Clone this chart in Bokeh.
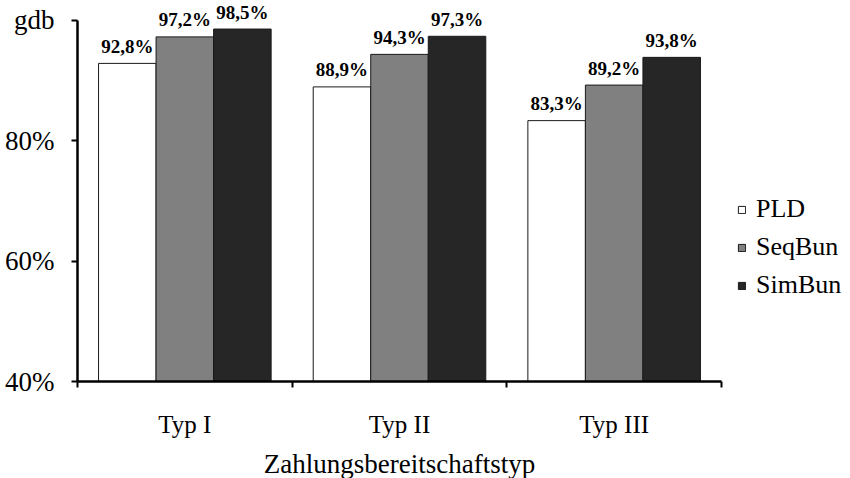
from bokeh.plotting import figure
from bokeh.models import Range1d, FixedTicker, Legend, LegendItem, ColumnDataSource
from bokeh.embed import file_html
from bokeh.resources import INLINE
from bokeh.core.properties import value

categories = ["Typ I", "Typ II", "Typ III"]
series = ["PLD", "SeqBun", "SimBun"]
pld = [92.8, 88.9, 83.3]
seqbun = [97.2, 94.3, 89.2]
simbun = [98.5, 97.3, 93.8]
y_ticks = [40, 60, 80, 100]
y_tick_labels = ["40%", "60%", "80%", "gdb"]
colors = ["#ffffff", "#808080", "#262626"]
x_title = "Zahlungsbereitschaftstyp"

FONT = "Liberation Serif"

p = figure(frame_width=644, frame_height=381, output_backend="svg", toolbar_location=None,
           x_range=Range1d(0, 3), y_range=Range1d(40, 103.24),
           min_border_left=77, min_border_top=0, min_border_right=129, min_border_bottom=0)
p.outline_line_color = None
p.xgrid.visible = False
p.ygrid.visible = False

bar_w = 0.268
offsets = [-bar_w, 0, bar_w]
items = []
for vals, name, color, off in zip([pld, seqbun, simbun], series, colors, offsets):
    xs = [i + 0.5 + off for i in range(len(categories))]
    src = ColumnDataSource(dict(x=xs, top=vals,
                                label=[f"{v:.1f}%".replace(".", ",") for v in vals]))
    r = p.vbar(x="x", top="top", bottom=40, width=bar_w, source=src,
               fill_color=color, line_color="#1a1a1a", line_width=1)
    items.append(LegendItem(label=name, renderers=[r]))
    p.text(x="x", y="top", text="label", source=src, text_font=value(FONT),
           text_font_style="bold", text_font_size="19px", text_align="center",
           text_baseline="alphabetic", y_offset=-17, text_color="black")

legend = Legend(items=items, location=(16, 81))
legend.glyph_width = 9
legend.glyph_height = 9
legend.label_standoff = 10
legend.spacing = 8
legend.padding = 0
legend.margin = 0
legend.border_line_color = None
legend.background_fill_alpha = 0
legend.label_text_font = FONT
legend.label_text_font_size = "26px"
legend.label_text_color = "black"
p.add_layout(legend, "right")

# y axis
ya = p.yaxis[0]
ya.ticker = FixedTicker(ticks=y_ticks, minor_ticks=[])
ya.major_label_overrides = {t: l for t, l in zip(y_ticks, y_tick_labels)}
ya.bounds = (y_ticks[0], y_ticks[-1])
ya.axis_line_width = 2.5
ya.axis_line_color = "black"
ya.major_tick_line_width = 2
ya.major_tick_line_color = "black"
ya.major_tick_out = 6
ya.major_tick_in = 0
ya.major_label_standoff = 17
ya.major_label_text_font = FONT
ya.major_label_text_font_size = "27px"
ya.major_label_text_color = "black"

# x axis
xa = p.xaxis[0]
centers = [i + 0.5 for i in range(len(categories))]
xa.ticker = FixedTicker(ticks=centers, minor_ticks=list(range(len(categories) + 1)))
xa.major_label_overrides = {c: n for c, n in zip(centers, categories)}
xa.bounds = (0, len(categories))
xa.axis_line_width = 2.5
xa.axis_line_color = "black"
xa.major_tick_line_color = None
xa.major_tick_out = 6
xa.major_tick_in = 0
xa.minor_tick_line_color = "black"
xa.minor_tick_line_width = 2
xa.minor_tick_out = 6
xa.minor_tick_in = 0
xa.major_label_standoff = 23
xa.major_label_text_font = FONT
xa.major_label_text_font_size = "25px"
xa.major_label_text_color = "black"
xa.axis_label = x_title
xa.axis_label_standoff = 8
xa.axis_label_text_font = FONT
xa.axis_label_text_font_style = "normal"
xa.axis_label_text_font_size = "27px"
xa.axis_label_text_color = "black"

open("out.html", "w").write(file_html(p, INLINE))
